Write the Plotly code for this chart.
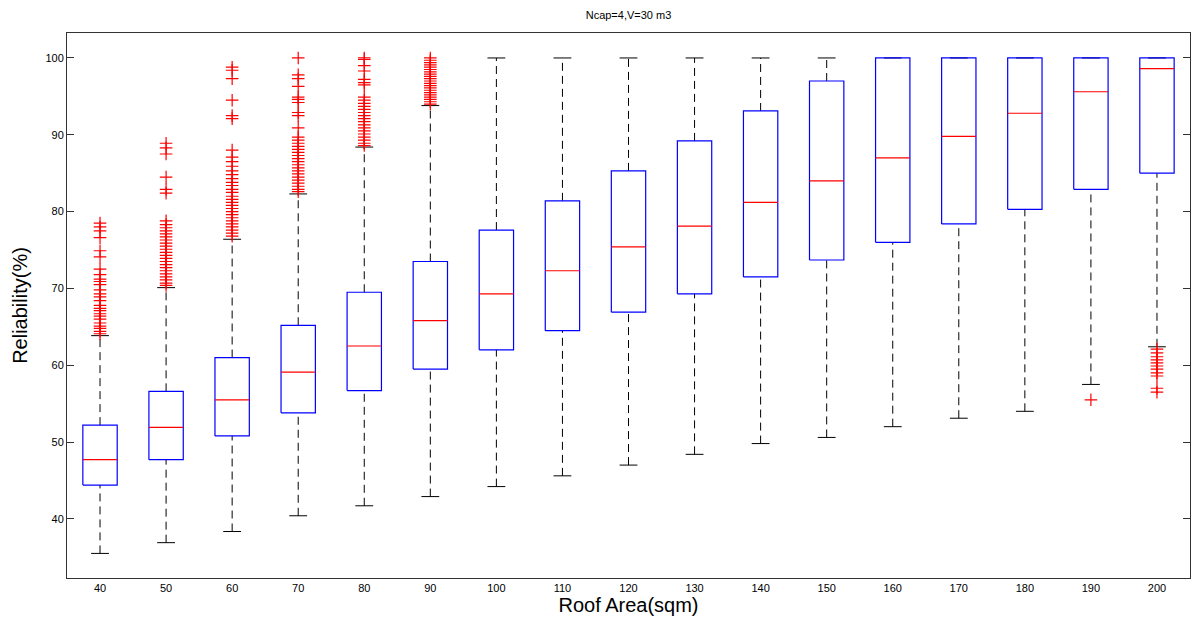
import plotly.graph_objects as go

categories = [40, 50, 60, 70, 80, 90, 100, 110, 120, 130, 140, 150, 160, 170, 180, 190, 200]
q1 = [44.4, 47.7, 50.8, 53.8, 56.7, 59.5, 62.0, 64.5, 66.9, 69.3, 71.5, 73.7, 76.0, 78.4, 80.3, 82.9, 85.0]
median = [47.7, 51.9, 55.5, 59.1, 62.5, 65.8, 69.3, 72.3, 75.4, 78.1, 81.2, 84.0, 87.0, 89.8, 92.8, 95.6, 98.6]
q3 = [52.2, 56.6, 61.0, 65.2, 69.5, 73.5, 77.6, 81.4, 85.3, 89.2, 93.1, 97.0, 100.0, 100.0, 100.0, 100.0, 100.0]
lower_whisker = [35.5, 36.9, 38.35, 40.4, 41.7, 42.9, 44.2, 45.6, 47.0, 48.4, 49.8, 50.6, 52.0, 53.1, 54.0, 57.5, 62.4]
upper_whisker = [63.85, 70.1, 76.4, 82.3, 88.4, 93.8, 100.0, 100.0, 100.0, 100.0, 100.0, 100.0, 100.0, 100.0, 100.0, 100.0, 100.0]

outliers = {
    40: [78.5, 78.0, 77.5, 76.6, 74.9, 74.1, 72.5, 71.8, 71.2, 70.9, 70.5, 69.8, 69.3, 68.9, 68.4, 67.8, 67.4,
         67.1, 66.7, 66.4, 66.0, 65.5, 65.1, 64.8, 64.4, 64.1],
    50: [88.9, 88.3, 87.5, 84.5, 82.9, 82.4, 78.8, 78.3, 77.9, 77.5, 77.1, 76.7, 76.3, 75.9, 75.5, 75.1, 74.7,
         74.3, 73.9, 73.5, 73.1, 72.7, 72.3, 71.9, 71.5, 71.1, 70.7, 70.4],
    60: [98.8, 98.4, 97.3, 94.5, 92.5, 92.1, 88.0, 87.1, 86.5, 85.9, 85.3, 84.8, 84.3, 83.8, 83.4, 82.9, 82.5,
         82.0, 81.6, 81.2, 80.8, 80.4, 80.0, 79.6, 79.2, 78.8, 78.4, 78.0, 77.6, 77.2, 76.8],
    70: [100.0, 97.8, 97.3, 96.3, 94.9, 94.6, 94.2, 92.9, 92.5, 90.9, 89.7, 89.3, 88.9, 88.5, 88.1, 87.7, 87.3,
         86.9, 86.5, 86.1, 85.7, 85.3, 84.9, 84.5, 84.1, 83.7, 83.3, 82.9, 82.6],
    80: [100.0, 99.8, 99.0, 98.3, 97.2, 96.8, 96.5, 94.9, 94.5, 94.1, 93.7, 93.3, 92.9, 92.5, 92.1, 91.7, 91.3,
         90.9, 90.5, 90.1, 89.7, 89.3, 88.9, 88.6],
    90: [100.0, 99.7, 99.4, 99.1, 98.8, 98.5, 98.2, 97.9, 97.6, 97.3, 97.0, 96.7, 96.4, 96.1, 95.8, 95.5, 95.2,
         94.9, 94.6, 94.3, 94.0],
    190: [55.5],
    200: [62.1, 61.6, 61.1, 60.7, 60.3, 59.9, 59.5, 59.0, 58.6, 57.0, 56.5],
}

tick_labels = [str(c) for c in categories]
positions = list(range(1, len(categories) + 1))

BOX_HW = 0.26
CAP_HW = 0.135

fig = go.Figure()

# whiskers (dashed)
wx, wy = [], []
for i, p in enumerate(positions):
    if upper_whisker[i] > q3[i]:
        wx += [p, p, None]
        wy += [q3[i], upper_whisker[i], None]
    if lower_whisker[i] < q1[i]:
        wx += [p, p, None]
        wy += [lower_whisker[i], q1[i], None]
fig.add_trace(go.Scatter(x=wx, y=wy, mode="lines", line=dict(color="black", width=1, dash="8px,5px"),
                         hoverinfo="skip", showlegend=False))

# caps
cx, cy = [], []
for i, p in enumerate(positions):
    for v in (upper_whisker[i], lower_whisker[i]):
        cx += [p - CAP_HW, p + CAP_HW, None]
        cy += [v, v, None]
fig.add_trace(go.Scatter(x=cx, y=cy, mode="lines", line=dict(color="black", width=1),
                         hoverinfo="skip", showlegend=False))

# boxes
bx, by = [], []
for i, p in enumerate(positions):
    bx += [p - BOX_HW, p + BOX_HW, p + BOX_HW, p - BOX_HW, p - BOX_HW, None]
    by += [q1[i], q1[i], q3[i], q3[i], q1[i], None]
fig.add_trace(go.Scatter(x=bx, y=by, mode="lines", line=dict(color="#0000FF", width=1.2),
                         hoverinfo="skip", showlegend=False))

# medians
mx, my = [], []
for i, p in enumerate(positions):
    mx += [p - BOX_HW, p + BOX_HW, None]
    my += [median[i], median[i], None]
fig.add_trace(go.Scatter(x=mx, y=my, mode="lines", line=dict(color="#FF0000", width=1.2),
                         hoverinfo="skip", showlegend=False))

# outliers
ox, oy = [], []
for i, c in enumerate(categories):
    for v in outliers.get(c, []):
        ox.append(positions[i])
        oy.append(v)
fig.add_trace(go.Scatter(x=ox, y=oy, mode="markers",
                         marker=dict(symbol="cross-thin-open", size=9, color="#FF0000",
                                     line=dict(color="#FF0000", width=1.2)),
                         hoverinfo="skip", showlegend=False))

font_family = "Liberation Sans, Arial, Helvetica, sans-serif"
fig.update_layout(
    width=1197, height=623,
    margin=dict(l=67, r=7, t=33, b=45),
    paper_bgcolor="white", plot_bgcolor="white",
    font=dict(family=font_family, size=11, color="black"),
    title=dict(text="Ncap=4,V=30 m3", x=0.5, xref="paper", y=0.976, yanchor="middle",
               font=dict(family=font_family, size=11, color="black")),
    xaxis=dict(range=[0.5, 17.5], tickmode="array", tickvals=positions, ticktext=tick_labels,
               ticks="", showgrid=False, zeroline=False, showline=True, linecolor="#333333",
               linewidth=1, mirror=True,
               title=dict(text="Roof Area(sqm)", font=dict(family=font_family, size=20), standoff=4),
               tickfont=dict(size=11, color="black")),
    yaxis=dict(range=[32.3, 103.25], tickmode="array", tickvals=[40, 50, 60, 70, 80, 90, 100],
               ticks="inside", ticklen=7, tickcolor="#333333", showgrid=False, zeroline=False,
               showline=True, linecolor="#333333", linewidth=1, mirror="ticks",
               title=dict(text="Reliability(%)", font=dict(family=font_family, size=20), standoff=12),
               tickfont=dict(size=11, color="black")),
)

fig.write_html("out.html")
